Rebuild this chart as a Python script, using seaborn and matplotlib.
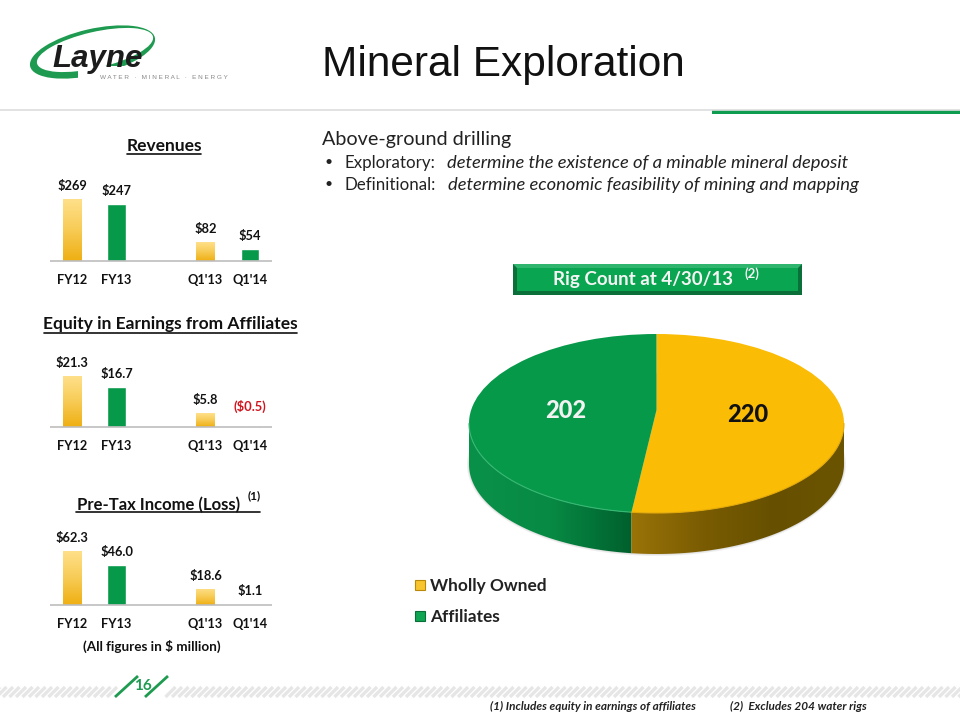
#!/usr/bin/env python3
"""Mineral Exploration slide: three small bar charts and a rig count pie."""

import numpy as np
import pandas as pd
import matplotlib
matplotlib.use("Agg")
import matplotlib.pyplot as plt
from matplotlib.colors import LinearSegmentedColormap
from matplotlib.patches import Ellipse, Polygon, Rectangle
import seaborn as sns

# Data
periods = ["FY12", "FY13", "Q1'13", "Q1'14"]
period_order = ["FY12", "FY13", " ", "Q1'13", "Q1'14"]
period_kind = ["prior", "current", "prior", "current"]

revenues = [269, 247, 82, 54]
revenue_labels = ["$269", "$247", "$82", "$54"]
equity = [21.3, 16.7, 5.8, -0.5]
equity_labels = ["$21.3", "$16.7", "$5.8", "($0.5)"]
pretax = [62.3, 46.0, 18.6, 1.1]
pretax_labels = ["$62.3", "$46.0", "$18.6", "$1.1"]

rig_names = ["Wholly Owned", "Affiliates"]
rig_counts = [220, 202]

GREEN = "#07994A"
GOLD = "#FBBC05"
BODY = ["Lato", "DejaVu Sans"]

sns.set_theme(style="white")
plt.rcParams["font.family"] = BODY
W, H = 960, 720

fig = plt.figure(figsize=(W / 100, H / 100), dpi=100, facecolor="white")

# Whole-slide axes in pixel coordinates for the decoration and the text
bg = fig.add_axes([0, 0, 1, 1], zorder=0)
bg.set_xlim(0, W)
bg.set_ylim(H, 0)
bg.axis("off")


def px_axes(left, top, right, bottom, **kw):
    return fig.add_axes([left / W, 1 - bottom / H, (right - left) / W, (bottom - top) / H], **kw)


def gradient(ax, patch, extent, stops, horizontal=False, zorder=3):
    """Paint a linear gradient clipped to a patch."""
    cmap = LinearSegmentedColormap.from_list("g", stops)
    ramp = np.linspace(0, 1, 128)
    ramp = ramp[None, :] if horizontal else ramp[:, None]
    xlim, ylim = ax.get_xlim(), ax.get_ylim()
    im = ax.imshow(ramp, extent=extent, origin="lower", aspect="auto", cmap=cmap,
                   vmin=0, vmax=1, zorder=zorder)
    im.set_clip_path(patch)
    ax.set_xlim(xlim)
    ax.set_ylim(ylim)


def bar_panel(base_y, values, labels, height_px):
    """One small bar chart whose zero line sits at pixel row base_y."""
    ax = px_axes(50, base_y - 75, 272, base_y + 5, zorder=2)
    ax.patch.set_alpha(0)
    df = pd.DataFrame({"period": periods, "value": values, "kind": period_kind})
    sns.barplot(data=df, x="period", y="value", hue="kind", order=period_order,
                hue_order=["prior", "current"], palette={"prior": GOLD, "current": GREEN},
                dodge=False, width=0.41, legend=False, saturation=1, ax=ax)
    top = max(values)
    ax.set_ylim(-top * 5 / height_px, top * 75 / height_px)
    ax.set_xlim(-0.5, 4.5)
    for bar in ax.containers[0]:
        x0, y0 = bar.get_x(), bar.get_y()
        extent = [x0, x0 + bar.get_width(), y0, y0 + bar.get_height()]
        gradient(ax, bar, extent, ["#EFAF12", "#F7CB55", "#FFE08A"])
    ax.axhline(0, color="#BDBDBD", lw=1.2, zorder=4)
    sns.despine(ax=ax, left=True, bottom=True)
    ax.set_xlabel("")
    ax.set_ylabel("")
    ax.set_yticks([])
    ax.tick_params(axis="x", length=0, pad=5.5)
    for tick in ax.get_xticklabels():
        tick.set_fontweight("bold")
        tick.set_fontsize(9.2)
        tick.set_color("#111111")
    for i, (val, lab) in enumerate(zip(values, labels)):
        pos = period_order.index(periods[i])
        col = "#D0141E" if val < 0 else "#111111"
        ax.annotate(lab, (pos, max(val, 0)), xytext=(0, 5 if val >= 0 else 10),
                    textcoords="offset points", ha="center", va="bottom",
                    fontsize=9.3, fontweight="bold", color=col)
    return ax


bar_panel(261, revenues, revenue_labels, 62)
bar_panel(427, equity, equity_labels, 51)
bar_panel(605, pretax, pretax_labels, 54)

# Panel headings
for txt, cx, cy, size, x0, x1, uy in [("Revenues", 164, 146, 12.5, 127, 201, 154),
                                      ("Equity in Earnings from Affiliates", 170.5, 324, 12.5, 44, 297, 333),
                                      ("Pre-Tax Income (Loss)", 158.5, 505, 12, 76, 260, 512)]:
    bg.text(cx, cy, txt, ha="center", va="center", fontsize=size, fontweight="bold", color="#111111")
    bg.plot([x0, x1], [uy, uy], color="#111111", lw=1.2)
bg.text(254, 496, "(1)", ha="center", va="center", fontsize=8.5, fontweight="bold", color="#111111")
bg.text(152, 646, "(All figures in $ million)", ha="center", va="center", fontsize=9.7,
        fontweight="bold", color="#111111")

# Logo
bg.add_patch(Ellipse((92.5, 52), 128, 46, angle=-13, color="#1E9B50", lw=0, zorder=1))
bg.add_patch(Ellipse((95, 50), 119, 36, angle=-13, color="white", lw=0, zorder=1))
bg.add_patch(Polygon([(78, 66), (134, 66), (150, 90), (78, 90)], color="white", lw=0, zorder=1))
bg.text(52, 67, "Layne", ha="left", va="baseline", fontsize=22.5, fontweight="bold", style="italic",
        family=["Liberation Sans"], color="#1C1C1C", zorder=2)
bg.text(164, 77.5, "W A T E R   ·   M I N E R A L   ·   E N E R G Y", ha="center", va="center",
        fontsize=4.6, color="#888888", family=["Liberation Sans"], zorder=2)

# Title and rules
bg.text(322, 65, "Mineral Exploration", ha="left", va="center", fontsize=30.5,
        family=["Liberation Sans"], color="#111111")
bg.plot([0, W], [110, 110], color="#DDDDDD", lw=1.2)
bg.add_patch(Rectangle((712, 110), 248, 4, color="#0E9C50", lw=0))

# Body text
bg.text(322, 139, "Above-ground drilling", va="center", fontsize=14.2, color="#222222")
for y, head, hx, rest in [(163, "Exploratory:", 447, "determine the existence of a minable mineral deposit"),
                          (185, "Definitional:", 448, "determine economic feasibility of mining and mapping")]:
    bg.text(329, y - 1, "•", ha="center", va="center", fontsize=10, color="#222222")
    bg.text(345, y, head, va="center", fontsize=12.2, color="#222222")
    bg.text(hx, y, rest, va="center", fontsize=13.28, style="italic", color="#222222")

# Rig count banner
bg.add_patch(Rectangle((513, 264), 289, 31, color="#0B6F3A", lw=0))
bg.add_patch(Polygon([(513, 264), (802, 264), (798, 268), (517, 268)], color="#2FB56E", lw=0))
bg.add_patch(Rectangle((517, 268), 281, 23, color="#09A550", lw=0))
bg.text(643, 280, "Rig Count at 4/30/13", ha="center", va="center", fontsize=13.5,
        fontweight="bold", color="#F4F4F4")
bg.text(752, 273.5, "(2)", ha="center", va="center", fontsize=9.5, fontweight="bold", color="#F4F4F4")

# Pie: flat top drawn by matplotlib, squashed by the axes shape, with a rim added below
RX, RY, CX, CY, DEPTH = 187.5, 89.5, 656.5, 423.5, 41
pie_ax = px_axes(CX - 1.25 * RX, CY - 1.25 * RY, CX + 1.25 * RX, CY + 1.8 * RY, zorder=1)
wedges, _ = pie_ax.pie(rig_counts, colors=[GOLD, GREEN], startangle=90, counterclock=False,
                       radius=1, wedgeprops={"linewidth": 0, "edgecolor": "none"})
pie_ax.set_aspect("auto")
pie_ax.set_xlim(-1.25, 1.25)
pie_ax.set_ylim(-1.8, 1.25)
for w in wedges:
    w.set_zorder(5)
    path = w.get_path()
    verts = path.vertices.copy()
    # the apex sits a bit above the middle because of the 3D view
    verts[np.hypot(verts[:, 0], verts[:, 1]) < 0.01, 1] += 13.5 / RY
    path.vertices = verts

split = 90 - 360 * rig_counts[0] / sum(rig_counts) + 360
d = DEPTH / RY


def arc(a0, a1):
    t = np.radians(np.linspace(a0, a1, 80))
    return np.cos(t), np.sin(t)


def rim(a0, a1):
    x, y = arc(a0, a1)
    return np.vstack([np.column_stack([x, y]), np.column_stack([x[::-1], y[::-1] - d])])


for grow in [4, 2]:
    pie_ax.add_patch(Ellipse((0, -d), 2 + grow / RX, 2 + grow / RY, color="#000000", alpha=0.06,
                             lw=0, zorder=1))
rim_green = Polygon(rim(180, split), facecolor="none", lw=0)
rim_gold = Polygon(rim(split, 360), facecolor="none", lw=0)
pie_ax.add_patch(rim_green)
pie_ax.add_patch(rim_gold)
sx = np.cos(np.radians(split))
gradient(pie_ax, rim_green, [-1, sx, -1 - d, 0.2], ["#0A9149", "#078A44", "#00602D"], horizontal=True)
gradient(pie_ax, rim_gold, [sx, 1, -1 - d, 0.2], ["#9A7308", "#7A5C02", "#665000", "#6B5400"], horizontal=True)
# light edge where the top meets the rim
pie_ax.plot(*arc(180, split), color="#35B873", lw=0.8, zorder=6)
pie_ax.plot(*arc(split, 360), color="#E3A907", lw=0.8, zorder=6)

fig.text(566 / W, 1 - 410 / H, str(rig_counts[1]), ha="center", va="center", fontsize=17,
         fontweight=900, color="#F2F2F2", zorder=10)
fig.text(748 / W, 1 - 415 / H, str(rig_counts[0]), ha="center", va="center", fontsize=17,
         fontweight=900, color="#111111", zorder=10)

# Legend
for name, y, col, edge in [(rig_names[0], 585, "#F8C52E", "#B98A0A"), (rig_names[1], 616, "#0FA552", "#0A6E38")]:
    bg.add_patch(Rectangle((415, y - 5), 10, 10, facecolor=col, edgecolor=edge, lw=0.8))
    bg.text(430, y + 0.5, name, va="center", fontsize=12.4, fontweight="bold", color="#222222")

# Striped footer band and page number
for x in np.arange(-10, W, 6.5):
    if x + 10 < 120 or x > 165:
        bg.plot([x, x + 10], [697, 687], color="#E6E6E6", lw=2.4, solid_capstyle="butt")
for x0 in (115, 145):
    bg.plot([x0, x0 + 23], [697, 676], color="#1E9B50", lw=2, solid_capstyle="butt")
bg.text(142.5, 686, "16", ha="center", va="center", fontsize=11, fontweight="bold", color="#1E9B50")

bg.text(490, 706, "(1) Includes equity in earnings of affiliates", va="center", fontsize=8.5,
        fontweight="bold", style="italic", color="#222222")
bg.text(730, 706, "(2)  Excludes 204 water rigs", va="center", fontsize=8.5,
        fontweight="bold", style="italic", color="#222222")

fig.savefig("out.png", dpi=100)
